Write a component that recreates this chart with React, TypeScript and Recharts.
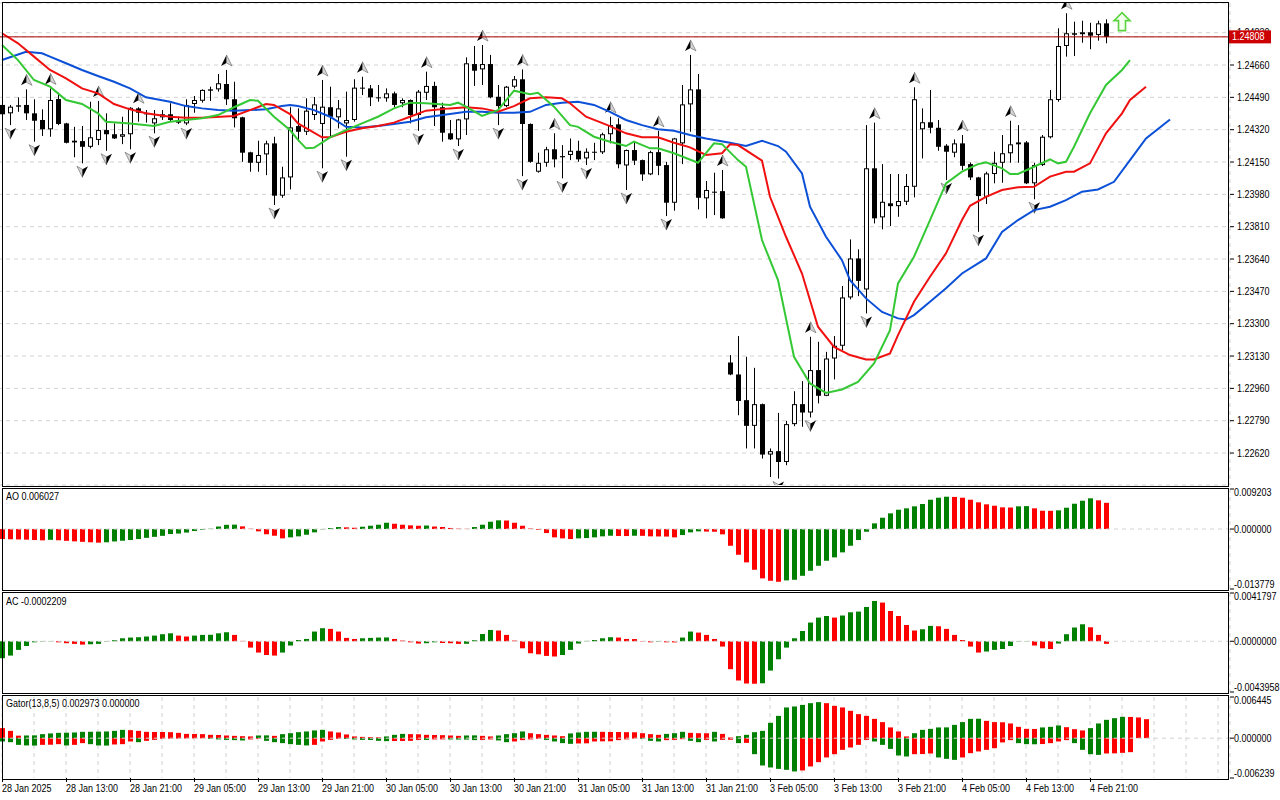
import React from 'react';
import {
  ComposedChart, Bar, Line, Scatter, XAxis, YAxis, CartesianGrid, ReferenceLine, Cell,
} from 'recharts';

const FONT = "'Liberation Sans', 'DejaVu Sans', Arial, sans-serif";
const SLOTS = 154;
const CHART_W = 1282;
const GRID = '#d2d2d2';
const UPC = '#008000';
const DNC = '#ff0000';

const timeLabels = [
  '28 Jan 2025', '28 Jan 13:00', '28 Jan 21:00', '29 Jan 05:00', '29 Jan 13:00', '29 Jan 21:00',
  '30 Jan 05:00', '30 Jan 13:00', '30 Jan 21:00', '31 Jan 05:00', '31 Jan 13:00', '31 Jan 21:00',
  '3 Feb 05:00', '3 Feb 13:00', '3 Feb 21:00', '4 Feb 05:00', '4 Feb 13:00', '4 Feb 21:00',
];

const priceTicks = [1.2262, 1.2279, 1.2296, 1.2313, 1.233, 1.2347, 1.2364, 1.2381, 1.2398, 1.2415, 1.2432, 1.2449, 1.2466, 1.2483];
const priceDomain = [1.22452, 1.24986];

const opens = [
  1.24450, 1.24406, 1.24448, 1.24450, 1.24406, 1.24371, 1.24322, 1.24481, 1.24353, 1.24253,
  1.24260, 1.24230, 1.24266, 1.24318, 1.24296, 1.24283, 1.24296, 1.24432, 1.24406, 1.24353,
  1.24385, 1.24401, 1.24371, 1.24353, 1.24455, 1.24472, 1.24532, 1.24532, 1.24560, 1.24480,
  1.24385, 1.24201, 1.24146, 1.24190, 1.24248, 1.23973, 1.24069, 1.24339, 1.24309, 1.24397,
  1.24350, 1.24438, 1.24385, 1.24353, 1.24371, 1.24541, 1.24537, 1.24490, 1.24485, 1.24511,
  1.24459, 1.24476, 1.24397, 1.24514, 1.24550, 1.24438, 1.24301, 1.24269, 1.24374, 1.24665,
  1.24637, 1.24665, 1.24493, 1.24444, 1.24546, 1.24585, 1.24350, 1.24099, 1.24146, 1.24217,
  1.24175, 1.24187, 1.24209, 1.24169, 1.24204, 1.24201, 1.24296, 1.24348, 1.24132, 1.24213,
  1.24160, 1.24085, 1.24202, 1.24134, 1.23936, 1.24248, 1.24453, 1.24532, 1.23959, 1.23994,
  1.23997, 1.23096, 1.23033, 1.22898, 1.22763, 1.22877, 1.22612, 1.22630, 1.22573, 1.22772,
  1.22877, 1.22833, 1.23056, 1.22921, 1.23117, 1.23184, 1.23438, 1.23643, 1.23480, 1.24117,
  1.23859, 1.23933, 1.23918, 1.23941, 1.24020, 1.24322, 1.24359, 1.24330, 1.24236, 1.24199,
  1.24248, 1.24139, 1.24069, 1.23967, 1.24087, 1.24146, 1.24196, 1.24243, 1.24253, 1.24038,
  1.24134, 1.24280, 1.24476, 1.24760, 1.24827, 1.24822, 1.24832, 1.24818, 1.24879,
];
const highs = [
  1.24459, 1.24450, 1.24490, 1.24532, 1.24480, 1.24427, 1.24537, 1.24514, 1.24356, 1.24335,
  1.24339, 1.24467, 1.24471, 1.24406, 1.24353, 1.24388, 1.24438, 1.24438, 1.24423, 1.24423,
  1.24423, 1.24459, 1.24388, 1.24480, 1.24497, 1.24532, 1.24546, 1.24613, 1.24634, 1.24572,
  1.24388, 1.24204, 1.24262, 1.24262, 1.24283, 1.24125, 1.24438, 1.24432, 1.24485, 1.24492,
  1.24581, 1.24546, 1.24476, 1.24520, 1.24585, 1.24598, 1.24555, 1.24555, 1.24537, 1.24520,
  1.24485, 1.24479, 1.24529, 1.24625, 1.24572, 1.24462, 1.24371, 1.24377, 1.24700, 1.24760,
  1.24765, 1.24713, 1.24555, 1.24550, 1.24602, 1.24637, 1.24353, 1.24199, 1.24230, 1.24301,
  1.24239, 1.24274, 1.24262, 1.24222, 1.24251, 1.24304, 1.24388, 1.24380, 1.24216, 1.24257,
  1.24163, 1.24209, 1.24314, 1.24151, 1.24277, 1.24555, 1.24713, 1.24613, 1.24050, 1.24094,
  1.24108, 1.23135, 1.23235, 1.23126, 1.23068, 1.22880, 1.22644, 1.22831, 1.22789, 1.22945,
  1.22998, 1.23231, 1.23205, 1.23152, 1.23235, 1.23498, 1.23743, 1.23691, 1.24344, 1.24357,
  1.24139, 1.24087, 1.24087, 1.24087, 1.24543, 1.24432, 1.24529, 1.24371, 1.24244, 1.24269,
  1.24292, 1.24148, 1.24072, 1.24099, 1.24204, 1.24292, 1.24367, 1.24344, 1.24260, 1.24146,
  1.24292, 1.24529, 1.24853, 1.24932, 1.24888, 1.24893, 1.24882, 1.24893, 1.24900,
];
const lows = [
  1.24388, 1.24344, 1.24414, 1.24371, 1.24257, 1.24287, 1.24283, 1.24344, 1.24248, 1.24175,
  1.24143, 1.24222, 1.24239, 1.24209, 1.24271, 1.24244, 1.24217, 1.24362, 1.24357, 1.24301,
  1.24371, 1.24362, 1.24350, 1.24344, 1.24409, 1.24462, 1.24471, 1.24520, 1.24450, 1.24332,
  1.24151, 1.24099, 1.24099, 1.24081, 1.23924, 1.23962, 1.24006, 1.24257, 1.24292, 1.24371,
  1.24117, 1.24283, 1.24327, 1.24178, 1.24362, 1.24502, 1.24444, 1.24467, 1.24467, 1.24438,
  1.24438, 1.24353, 1.24314, 1.24476, 1.24339, 1.24257, 1.24266, 1.24234, 1.24292, 1.24550,
  1.24555, 1.24485, 1.24344, 1.24438, 1.24537, 1.24076, 1.24146, 1.24094, 1.24125, 1.24122,
  1.24064, 1.24160, 1.24151, 1.24134, 1.24160, 1.24192, 1.24248, 1.24117, 1.24003, 1.24134,
  1.24051, 1.24081, 1.24081, 1.23866, 1.23894, 1.24139, 1.24309, 1.23901, 1.23854, 1.23871,
  1.23852, 1.23029, 1.22819, 1.22644, 1.22644, 1.22591, 1.22494, 1.22486, 1.22556, 1.22761,
  1.22758, 1.22807, 1.22881, 1.22919, 1.23007, 1.23161, 1.23428, 1.23445, 1.23354, 1.23827,
  1.23796, 1.23813, 1.23862, 1.23924, 1.23964, 1.24169, 1.24301, 1.24209, 1.24055, 1.24175,
  1.24108, 1.24055, 1.23783, 1.23929, 1.24038, 1.24041, 1.24146, 1.24146, 1.24034, 1.23954,
  1.24129, 1.24274, 1.24467, 1.24704, 1.24707, 1.24777, 1.24743, 1.24788, 1.24774,
];
const closes = [
  1.24401, 1.24441, 1.24441, 1.24406, 1.24367, 1.24322, 1.24476, 1.24350, 1.24251, 1.24262,
  1.24230, 1.24280, 1.24318, 1.24296, 1.24274, 1.24296, 1.24435, 1.24409, 1.24401, 1.24380,
  1.24401, 1.24371, 1.24357, 1.24450, 1.24476, 1.24529, 1.24525, 1.24564, 1.24480, 1.24380,
  1.24199, 1.24146, 1.24187, 1.24248, 1.23973, 1.24069, 1.24332, 1.24309, 1.24420, 1.24453,
  1.24441, 1.24388, 1.24432, 1.24371, 1.24541, 1.24537, 1.24490, 1.24486, 1.24511, 1.24450,
  1.24476, 1.24397, 1.24520, 1.24550, 1.24438, 1.24304, 1.24269, 1.24374, 1.24669, 1.24630,
  1.24665, 1.24490, 1.24444, 1.24546, 1.24585, 1.24350, 1.24151, 1.24146, 1.24217, 1.24164,
  1.24181, 1.24209, 1.24164, 1.24204, 1.24202, 1.24296, 1.24344, 1.24138, 1.24213, 1.24157,
  1.24085, 1.24202, 1.24130, 1.23936, 1.24274, 1.24453, 1.24532, 1.23962, 1.24003, 1.23992,
  1.23854, 1.23033, 1.22894, 1.22763, 1.22877, 1.22612, 1.22630, 1.22573, 1.22772, 1.22877,
  1.22833, 1.23056, 1.22921, 1.23117, 1.23184, 1.23438, 1.23643, 1.23525, 1.24117, 1.23854,
  1.23941, 1.23918, 1.23945, 1.24024, 1.24480, 1.24359, 1.24330, 1.24230, 1.24204, 1.24248,
  1.24130, 1.24069, 1.23971, 1.24090, 1.24146, 1.24196, 1.24243, 1.24253, 1.24038, 1.24134,
  1.24283, 1.24480, 1.24760, 1.24827, 1.24819, 1.24832, 1.24814, 1.24879, 1.24808,
];

const upFractals = [3, 6, 12, 17, 28, 40, 45, 53, 60, 65, 69, 76, 82, 86, 90, 101, 109, 114, 120, 126, 133];
const downFractals = [1, 4, 10, 13, 16, 19, 23, 34, 40, 43, 52, 57, 62, 65, 70, 73, 78, 83, 97, 101, 108, 118, 122, 129];

const jawPoints: [number, number][] = [
  [0, 1.24686], [3, 1.24730], [5, 1.24722], [6, 1.24704], [8, 1.24669], [10, 1.24634], [12, 1.24602], [14, 1.24572],
  [16, 1.24537], [18, 1.24490], [21, 1.24467], [23, 1.24444], [25, 1.24432], [27, 1.24423], [29, 1.24420], [31, 1.24423],
  [33, 1.24427], [35, 1.24444], [36, 1.24450], [37, 1.24444], [39, 1.24423], [41, 1.24388], [43, 1.24335], [45, 1.24332],
  [47, 1.24339], [49, 1.24350], [51, 1.24362], [53, 1.24385], [56, 1.24402], [58, 1.24414], [60, 1.24414], [62, 1.24409],
  [64, 1.24409], [66, 1.24414], [68, 1.24450], [70, 1.24462], [72, 1.24467], [74, 1.24450], [76, 1.24414], [78, 1.24371],
  [80, 1.24344], [82, 1.24322], [84, 1.24314], [86, 1.24292], [88, 1.24274], [91, 1.24251], [93, 1.24234], [95, 1.24262],
  [97, 1.24234], [98, 1.24204], [100, 1.24090], [101, 1.23915], [103, 1.23757], [105, 1.23634], [106, 1.23529], [108, 1.23433],
  [110, 1.23362], [112, 1.23328], [113, 1.23322], [114, 1.23345], [116, 1.23415], [118, 1.23486], [120, 1.23564], [123, 1.23643],
  [125, 1.23782], [127, 1.23845], [129, 1.23897], [131, 1.23915], [133, 1.23950], [135, 1.23994], [137, 1.24006], [139, 1.24046],
  [141, 1.24160], [143, 1.24274], [146, 1.24374],
];
const teethPoints: [number, number][] = [
  [0, 1.24827], [2, 1.24774], [4, 1.24704], [6, 1.24634], [8, 1.24590], [10, 1.24537], [12, 1.24511], [14, 1.24455],
  [16, 1.24427], [18, 1.24406], [21, 1.24388], [23, 1.24383], [25, 1.24383], [29, 1.24392], [31, 1.24423], [33, 1.24455],
  [34, 1.24450], [36, 1.24402], [37, 1.24353], [40, 1.24280], [41, 1.24280], [43, 1.24309], [45, 1.24327], [47, 1.24339],
  [49, 1.24357], [51, 1.24388], [53, 1.24420], [56, 1.24432], [58, 1.24438], [60, 1.24432], [62, 1.24414], [64, 1.24444],
  [66, 1.24485], [68, 1.24490], [70, 1.24485], [71, 1.24459], [73, 1.24388], [76, 1.24339], [78, 1.24301], [80, 1.24280],
  [82, 1.24280], [84, 1.24251], [86, 1.24227], [88, 1.24187], [90, 1.24196], [91, 1.24243], [92, 1.24239], [95, 1.24157],
  [96, 1.23967], [98, 1.23757], [100, 1.23564], [102, 1.23284], [104, 1.23178], [106, 1.23135], [108, 1.23112], [109, 1.23112],
  [111, 1.23144], [112, 1.23240], [114, 1.23415], [116, 1.23547], [118, 1.23670], [120, 1.23845], [121, 1.23920], [123, 1.23967],
  [125, 1.24003], [127, 1.24017], [129, 1.24020], [131, 1.24073], [133, 1.24099], [134, 1.24099], [136, 1.24143], [138, 1.24301],
  [140, 1.24406], [141, 1.24476], [143, 1.24546],
];
const lipsPoints: [number, number][] = [
  [0, 1.24765], [2, 1.24686], [4, 1.24581], [6, 1.24546], [8, 1.24476], [10, 1.24455], [12, 1.24406], [13, 1.24362],
  [16, 1.24353], [19, 1.24339], [21, 1.24362], [23, 1.24371], [25, 1.24380], [27, 1.24397], [29, 1.24438], [31, 1.24476],
  [32, 1.24472], [34, 1.24388], [36, 1.24318], [37, 1.24266], [38, 1.24222], [39, 1.24225], [41, 1.24280], [43, 1.24318],
  [45, 1.24353], [47, 1.24388], [49, 1.24432], [51, 1.24462], [53, 1.24459], [56, 1.24450], [57, 1.24462], [58, 1.24441],
  [60, 1.24392], [62, 1.24423], [64, 1.24525], [66, 1.24507], [67, 1.24514], [69, 1.24441], [71, 1.24344], [72, 1.24335],
  [74, 1.24283], [76, 1.24257], [78, 1.24234], [79, 1.24257], [81, 1.24222], [82, 1.24222], [84, 1.24196], [87, 1.24146],
  [89, 1.24248], [90, 1.24244], [92, 1.24160], [93, 1.24125], [95, 1.23740], [97, 1.23529], [99, 1.23126], [101, 1.22986],
  [103, 1.22936], [105, 1.22954], [107, 1.22994], [109, 1.23091], [111, 1.23266], [112, 1.23512], [114, 1.23652], [116, 1.23845],
  [118, 1.24038], [120, 1.24099], [122, 1.24139], [123, 1.24148], [125, 1.24117], [126, 1.24087], [127, 1.24087], [129, 1.24125],
  [131, 1.24164], [132, 1.24143], [133, 1.24151], [134, 1.24230], [136, 1.24406], [138, 1.24555], [140, 1.24634], [141, 1.24686],
];

const signalIndex = 140;
const signalPrice = 1.24888;

const aoValues = [
  -0.00230, -0.00235, -0.00239, -0.00244, -0.00253, -0.00260, -0.00248, -0.00258, -0.00271, -0.00283,
  -0.00294, -0.00304, -0.00313, -0.00304, -0.00285, -0.00269, -0.00253, -0.00230, -0.00202, -0.00179,
  -0.00156, -0.00115, -0.00104, -0.00081, -0.00046, -0.00016, 0.00007, 0.00058, 0.00097, 0.00101,
  0.00062, 0.00007, -0.00053, -0.00120, -0.00154, -0.00214, -0.00191, -0.00168, -0.00131, -0.00076,
  -0.00007, 0.00023, 0.00046, 0.00039, 0.00030, 0.00053, 0.00076, 0.00099, 0.00145, 0.00122,
  0.00099, 0.00085, 0.00076, 0.00081, 0.00058, 0.00048, 0.00025, 0.00009, 0.00005, 0.00046,
  0.00099, 0.00168, 0.00200, 0.00196, 0.00145, 0.00076, 0.00012, -0.00018, -0.00092, -0.00191,
  -0.00214, -0.00230, -0.00214, -0.00207, -0.00191, -0.00168, -0.00154, -0.00159, -0.00161, -0.00154,
  -0.00156, -0.00168, -0.00170, -0.00173, -0.00191, -0.00138, -0.00076, -0.00053, -0.00058, -0.00062,
  -0.00122, -0.00384, -0.00591, -0.00766, -0.00936, -0.01134, -0.01189, -0.01212, -0.01180, -0.01166,
  -0.01074, -0.00959, -0.00844, -0.00729, -0.00651, -0.00536, -0.00384, -0.00253, -0.00062, 0.00131,
  0.00260, 0.00361, 0.00444, 0.00476, 0.00522, 0.00575, 0.00674, 0.00720, 0.00743, 0.00738,
  0.00720, 0.00674, 0.00614, 0.00568, 0.00536, 0.00499, 0.00495, 0.00522, 0.00527, 0.00476,
  0.00421, 0.00419, 0.00430, 0.00490, 0.00582, 0.00651, 0.00706, 0.00660, 0.006027,
];
const aoRange = [-0.013779, 0.009203];

const acValues = [
  -0.00147, -0.00124, -0.00075, -0.00041, -0.00009, -0.00003, -0.00002, -0.00009, -0.00017, -0.00023,
  -0.00029, -0.00026, -0.00023, -0.00003, 0.00009, 0.00026, 0.00032, 0.00035, 0.00041, 0.00049,
  0.00061, 0.00069, 0.00049, 0.00041, 0.00049, 0.00055, 0.00056, 0.00069, 0.00078, 0.00055,
  0.00003, -0.00055, -0.00098, -0.00119, -0.00124, -0.00098, -0.00037, 0.00011, 0.00020, 0.00084,
  0.00113, 0.00107, 0.00084, 0.00029, 0.00020, 0.00026, 0.00029, 0.00032, 0.00033, 0.00020,
  0.00006, -0.00009, -0.00020, -0.00017, -0.00009, -0.00015, -0.00017, -0.00023, -0.00022, 0.00009,
  0.00063, 0.00098, 0.00093, 0.00055, 0.00006, -0.00061, -0.00104, -0.00113, -0.00127, -0.00132,
  -0.00119, -0.00075, -0.00020, 0.00003, 0.00011, 0.00026, 0.00035, 0.00032, 0.00020, 0.00019,
  -0.00003, -0.00009, -0.00004, -0.00009, -0.00010, 0.00032, 0.00084, 0.00075, 0.00055, 0.00020,
  -0.00046, -0.00242, -0.00340, -0.00366, -0.00368, -0.00364, -0.00254, -0.00156, -0.00055, 0.00026,
  0.00089, 0.00162, 0.00205, 0.00219, 0.00205, 0.00223, 0.00251, 0.00257, 0.00297, 0.00349,
  0.00335, 0.00262, 0.00219, 0.00141, 0.00093, 0.00104, 0.00133, 0.00130, 0.00107, 0.00055,
  0.00011, -0.00046, -0.00098, -0.00089, -0.00075, -0.00067, -0.00041, -0.00003, -0.00002, -0.00037,
  -0.00061, -0.00067, -0.00020, 0.00061, 0.00119, 0.00147, 0.00121, 0.00055, -0.0002209,
];
const acRange = [-0.0043958, 0.0041797];

const gatorUp = [
  0.00157, 0.00114, 0.00039, 0.00042, 0.00044, 0.00063, 0.00074, 0.00083, 0.00085, 0.00089,
  0.00099, 0.00100, 0.00102, 0.00105, 0.00114, 0.00130, 0.00125, 0.00114, 0.00099, 0.00097,
  0.00096, 0.00094, 0.00083, 0.00067, 0.00066, 0.00063, 0.00052, 0.00050, 0.00042, 0.00036,
  0.00031, 0.00027, 0.00042, 0.00044, 0.00036, 0.00063, 0.00078, 0.00094, 0.00105, 0.00121,
  0.00130, 0.00105, 0.00089, 0.00058, 0.00027, 0.00020, 0.00016, 0.00013, 0.00027, 0.00052,
  0.00067, 0.00063, 0.00061, 0.00052, 0.00050, 0.00047, 0.00042, 0.00036, 0.00042, 0.00044,
  0.00036, 0.00027, 0.00042, 0.00063, 0.00078, 0.00105, 0.00078, 0.00063, 0.00052, 0.00042,
  0.00031, 0.00074, 0.00089, 0.00099, 0.00100, 0.00099, 0.00097, 0.00096, 0.00094, 0.00092,
  0.00078, 0.00063, 0.00052, 0.00067, 0.00078, 0.00099, 0.00083, 0.00078, 0.00077, 0.00099,
  0.00067, 0.00011, 0.00031, 0.00052, 0.00094, 0.00114, 0.00240, 0.00349, 0.00481, 0.00496,
  0.00521, 0.00548, 0.00564, 0.00548, 0.00506, 0.00481, 0.00428, 0.00376, 0.00349, 0.00302,
  0.00251, 0.00168, 0.00105, 0.00027, 0.00078, 0.00130, 0.00146, 0.00168, 0.00169, 0.00208,
  0.00251, 0.00302, 0.00304, 0.00271, 0.00251, 0.00249, 0.00230, 0.00177, 0.00146, 0.00144,
  0.00168, 0.00177, 0.00199, 0.00172, 0.00141, 0.00121, 0.00157, 0.00230, 0.00287, 0.00313,
  0.00334, 0.00332, 0.00324, 0.002973,
];
const gatorDown = [
  -0.00052, -0.00063, -0.00105, -0.00114, -0.00116, -0.00105, -0.00103, -0.00094, -0.00114, -0.00105,
  -0.00078, -0.00094, -0.00114, -0.00116, -0.00099, -0.00094, -0.00052, -0.00063, -0.00042, -0.00027,
  -0.00011, -0.00009, -0.00008, -0.00006, -0.00005, -0.00003, -0.00011, -0.00020, -0.00027, -0.00031,
  -0.00036, -0.00020, -0.00011, -0.00042, -0.00063, -0.00078, -0.00094, -0.00105, -0.00114, -0.00105,
  -0.00052, -0.00027, -0.00011, -0.00013, -0.00020, -0.00027, -0.00028, -0.00042, -0.00047, -0.00045,
  -0.00044, -0.00042, -0.00027, -0.00028, -0.00020, -0.00019, -0.00020, -0.00022, -0.00023, -0.00031,
  -0.00027, -0.00020, -0.00036, -0.00063, -0.00052, -0.00031, -0.00020, -0.00011, -0.00027, -0.00052,
  -0.00078, -0.00089, -0.00083, -0.00081, -0.00052, -0.00050, -0.00049, -0.00031, -0.00019, -0.00008,
  -0.00011, -0.00042, -0.00052, -0.00031, -0.00027, -0.00016, -0.00042, -0.00063, -0.00027, -0.00052,
  -0.00027, -0.00025, -0.00078, -0.00074, -0.00251, -0.00428, -0.00459, -0.00481, -0.00496, -0.00521,
  -0.00506, -0.00443, -0.00376, -0.00302, -0.00251, -0.00183, -0.00146, -0.00105, -0.00027, -0.00052,
  -0.00105, -0.00168, -0.00271, -0.00287, -0.00251, -0.00249, -0.00240, -0.00302, -0.00324, -0.00340,
  -0.00302, -0.00235, -0.00208, -0.00183, -0.00157, -0.00067, -0.00031, -0.00078, -0.00094, -0.00096,
  -0.00092, -0.00078, -0.00052, -0.00031, -0.00078, -0.00183, -0.00251, -0.00262, -0.00240, -0.00238,
  -0.00230, -0.00219,
];
const gatorRange = [-0.006239, 0.006445];

// ---- table built from the arrays ----
const jawMap = new Map(jawPoints);
const teethMap = new Map(teethPoints);
const lipsMap = new Map(lipsPoints);

const data = Array.from({ length: SLOTS }, (_, i) => ({
  i,
  o: opens[i] ?? null,
  h: highs[i] ?? null,
  l: lows[i] ?? null,
  c: closes[i] ?? null,
  fu: upFractals.includes(i),
  fd: downFractals.includes(i),
  jaw: jawMap.get(i) ?? null,
  teeth: teethMap.get(i) ?? null,
  lips: lipsMap.get(i) ?? null,
  sig: i === signalIndex ? signalPrice : null,
  ao: aoValues[i] ?? null,
  ac: acValues[i] ?? null,
  gu: gatorUp[i] ?? null,
  gd: gatorDown[i] ?? null,
}));

const gridTicks = Array.from({ length: Math.floor((SLOTS - 1) / 4) + 1 }, (_, k) => k * 4);

const risingColors = (vals: number[], first: string, useAbs = false) =>
  vals.map((v, i) => {
    if (i === 0) return first;
    const a = useAbs ? Math.abs(v) : v;
    const b = useAbs ? Math.abs(vals[i - 1]) : vals[i - 1];
    return a > b ? UPC : DNC;
  });
const aoColors = risingColors(aoValues, DNC);
const acColors = risingColors(acValues, UPC);
const guColors = risingColors(gatorUp, DNC);
const gdColors = risingColors(gatorDown, UPC, true);

const lastClose = closes[closes.length - 1];
const mainTicks = [...priceTicks, lastClose];

// ---- text helper: slightly condensed, like the terminal font ----
const SText = ({ x, y, fill = '#000', children }: any) => (
  <text transform={`translate(${x} ${y}) scale(0.9 1)`} dy="0.35em" fontSize={10} fill={fill} textAnchor="start">
    {children}
  </text>
);

// ---- shapes ----
const UpArrow = ({ cx, cy }: { cx: number; cy: number }) => (
  <g>
    <polygon points={`${cx},${cy - 6} ${cx - 5.5},${cy + 5} ${cx},${cy + 2}`} fill="#000" />
    <polygon points={`${cx},${cy - 6} ${cx},${cy + 2} ${cx + 5.5},${cy + 5}`} fill="#d6d6d6" stroke="#707070" strokeWidth={0.7} />
  </g>
);
const DownArrow = ({ cx, cy }: { cx: number; cy: number }) => (
  <g>
    <polygon points={`${cx},${cy + 6} ${cx - 5.5},${cy - 5} ${cx},${cy - 2}`} fill="#d6d6d6" stroke="#707070" strokeWidth={0.7} />
    <polygon points={`${cx},${cy + 6} ${cx},${cy - 2} ${cx + 5.5},${cy - 5}`} fill="#000" />
  </g>
);

const CandleShape = (props: any) => {
  const { x, y, width, height, payload } = props;
  if (!payload || payload.h == null || !Number.isFinite(y)) return <g />;
  const { o, h, l, c } = payload;
  const span = h - l || 1e-9;
  const py = (p: number) => y + ((h - p) / span) * height;
  const cx = Math.round(x + width / 2);
  const top = py(Math.max(o, c));
  const bot = py(Math.min(o, c));
  const bull = c >= o;
  const bodyH = Math.max(1, bot - top);
  return (
    <g>
      <line x1={cx + 0.5} x2={cx + 0.5} y1={y} y2={y + height} stroke="#000" strokeWidth={1} />
      {bull ? (
        <rect x={cx - 1.5} y={top + 0.5} width={4} height={Math.max(0, bodyH - 1)} fill="#fff" stroke="#000" strokeWidth={1} />
      ) : (
        <rect x={cx - 2} y={top} width={5} height={bodyH} fill="#000" />
      )}
      {payload.fu && <UpArrow cx={cx + 0.5} cy={y - 9} />}
      {payload.fd && <DownArrow cx={cx + 0.5} cy={y + height + 8} />}
    </g>
  );
};

const SignalShape = (props: any) => {
  const { cx, cy, payload } = props;
  if (!payload || payload.sig == null || !Number.isFinite(cx) || !Number.isFinite(cy)) return <g />;
  const pts = [
    [0, -9], [8, -1], [3.5, -1], [3.5, 9], [-3.5, 9], [-3.5, -1], [-8, -1],
  ].map(([dx, dy]) => `${cx + dx},${cy + dy}`).join(' ');
  return <polygon points={pts} fill="#f4fff0" stroke="#5bd23f" strokeWidth={1.6} />;
};

const PriceTick = (props: any) => {
  const { x, y, payload } = props;
  const v = payload?.value as number;
  if (v === lastClose) {
    return (
      <g>
        <rect x={x - 8} y={y - 6.5} width={42} height={13} fill="#cc0000" />
        <SText x={x - 5} y={y} fill="#fff">{v.toFixed(5)}</SText>
      </g>
    );
  }
  return <SText x={x} y={y}>{v.toFixed(5)}</SText>;
};

const TimeTick = (props: any) => {
  const { x, y, payload } = props;
  const v = payload?.value as number;
  if (v % 8 !== 0 || !timeLabels[v / 8]) return <g />;
  return (
    <g>
      <line x1={x + 0.5} x2={x + 0.5} y1={y} y2={y + 4} stroke="#000" />
      <SText x={x} y={y + 10}>{timeLabels[v / 8]}</SText>
    </g>
  );
};

const makeSubTick = (range: number[], digits: number) => (props: any) => {
  const { x, y, payload } = props;
  const v = payload?.value as number;
  let dy = 0;
  if (v === range[1]) dy = 3.5;
  else if (v === range[0]) dy = -5;
  return <SText x={x - 3} y={y + dy}>{v.toFixed(digits)}</SText>;
};

const hiddenX = (
  <XAxis dataKey="i" type="category" ticks={gridTicks} interval={0} height={0} tick={false} tickLine={false} axisLine={false} />
);

const captionStyle: React.CSSProperties = {
  position: 'absolute', left: 6, fontSize: 10, lineHeight: '12px', color: '#000',
  transform: 'scaleX(0.9)', transformOrigin: 'left center', whiteSpace: 'nowrap',
};

export default function App() {
  const subY = (range: number[], digits: number) => (
    <YAxis
      orientation="right"
      width={50}
      type="number"
      domain={range}
      ticks={[range[0], 0, range[1]]}
      interval={0}
      allowDataOverflow
      axisLine={false}
      tickLine={{ stroke: '#000' }}
      tickSize={4}
      tickMargin={3}
      tick={makeSubTick(range, digits)}
    />
  );

  return (
    <div style={{ position: 'fixed', left: 0, top: 0, width: 1280, height: 800, background: '#fff', overflow: 'hidden', fontFamily: FONT }}>
      {/* main price panel */}
      <div style={{ position: 'absolute', left: -2, top: 0 }}>
        <ComposedChart width={CHART_W} height={488} data={data} margin={{ top: 3, right: 0, bottom: 3, left: 0 }} barCategoryGap={0}>
          <CartesianGrid stroke={GRID} strokeDasharray="4 4" />
          {hiddenX}
          <YAxis
            orientation="right"
            width={50}
            type="number"
            domain={priceDomain}
            ticks={mainTicks}
            interval={0}
            allowDataOverflow
            axisLine={false}
            tickLine={{ stroke: '#000' }}
            tickSize={4}
            tickMargin={3}
            tick={PriceTick}
          />
          <Bar
            dataKey={(d: any) => (d.h == null ? null : [d.l, d.h])}
            shape={CandleShape}
            isAnimationActive={false}
          />
          <Line dataKey="jaw" stroke="#0c50d8" strokeWidth={2} dot={false} activeDot={false} connectNulls isAnimationActive={false} />
          <Line dataKey="teeth" stroke="#f01010" strokeWidth={2} dot={false} activeDot={false} connectNulls isAnimationActive={false} />
          <Line dataKey="lips" stroke="#34c834" strokeWidth={2} dot={false} activeDot={false} connectNulls isAnimationActive={false} />
          <Scatter dataKey="sig" shape={SignalShape} isAnimationActive={false} />
          <ReferenceLine y={lastClose} stroke="#b00000" strokeWidth={1} ifOverflow="visible" />
        </ComposedChart>
      </div>

      {/* AO */}
      <div style={{ position: 'absolute', left: -2, top: 486 }}>
        <ComposedChart width={CHART_W} height={106} data={data} margin={{ top: 3, right: 0, bottom: 3, left: 0 }}>
          <CartesianGrid horizontal={false} stroke={GRID} strokeDasharray="4 4" />
          {hiddenX}
          {subY(aoRange, 6)}
          <ReferenceLine y={0} stroke={GRID} strokeDasharray="4 4" />
          <Bar dataKey="ao" barSize={5} isAnimationActive={false}>
            {data.map((d, idx) => <Cell key={idx} fill={aoColors[idx] ?? DNC} />)}
          </Bar>
        </ComposedChart>
      </div>

      {/* AC */}
      <div style={{ position: 'absolute', left: -2, top: 590 }}>
        <ComposedChart width={CHART_W} height={105} data={data} margin={{ top: 3, right: 0, bottom: 3, left: 0 }}>
          <CartesianGrid horizontal={false} stroke={GRID} strokeDasharray="4 4" />
          {hiddenX}
          {subY(acRange, 7)}
          <ReferenceLine y={0} stroke={GRID} strokeDasharray="4 4" />
          <Bar dataKey="ac" barSize={5} isAnimationActive={false}>
            {data.map((d, idx) => <Cell key={idx} fill={acColors[idx] ?? DNC} />)}
          </Bar>
        </ComposedChart>
      </div>

      {/* Gator */}
      <div style={{ position: 'absolute', left: -2, top: 694 }}>
        <ComposedChart width={CHART_W} height={106} data={data} margin={{ top: 3, right: 0, bottom: 0, left: 0 }} stackOffset="sign">
          <CartesianGrid horizontal={false} stroke={GRID} strokeDasharray="4 4" />
          <XAxis
            dataKey="i"
            type="category"
            ticks={gridTicks}
            interval={0}
            height={22}
            axisLine={false}
            tickLine={false}
            tickSize={0}
            tickMargin={0}
            tick={TimeTick}
          />
          {subY(gatorRange, 6)}
          <ReferenceLine y={0} stroke={GRID} strokeDasharray="4 4" />
          <Bar dataKey="gu" stackId="g" barSize={5} isAnimationActive={false}>
            {data.map((d, idx) => <Cell key={idx} fill={guColors[idx] ?? DNC} />)}
          </Bar>
          <Bar dataKey="gd" stackId="g" barSize={5} isAnimationActive={false}>
            {data.map((d, idx) => <Cell key={idx} fill={gdColors[idx] ?? DNC} />)}
          </Bar>
        </ComposedChart>
      </div>

      {/* panel frames */}
      {[
        { top: 2, h: 485 },
        { top: 488, h: 103 },
        { top: 592, h: 102 },
        { top: 695, h: 85 },
      ].map((f, k) => (
        <div key={k} style={{ position: 'absolute', left: 2, top: f.top, width: 1227, height: f.h, border: '1px solid #000', boxSizing: 'border-box', pointerEvents: 'none' }} />
      ))}

      {/* indicator captions */}
      <div style={{ ...captionStyle, top: 491 }}>
        AO {aoValues[aoValues.length - 1].toFixed(6)}
      </div>
      <div style={{ ...captionStyle, top: 596 }}>
        AC {acValues[acValues.length - 1].toFixed(7)}
      </div>
      <div style={{ ...captionStyle, top: 698 }}>
        Gator(13,8,5) {gatorUp[gatorUp.length - 1].toFixed(6)} {(0).toFixed(6)}
      </div>
    </div>
  );
}
